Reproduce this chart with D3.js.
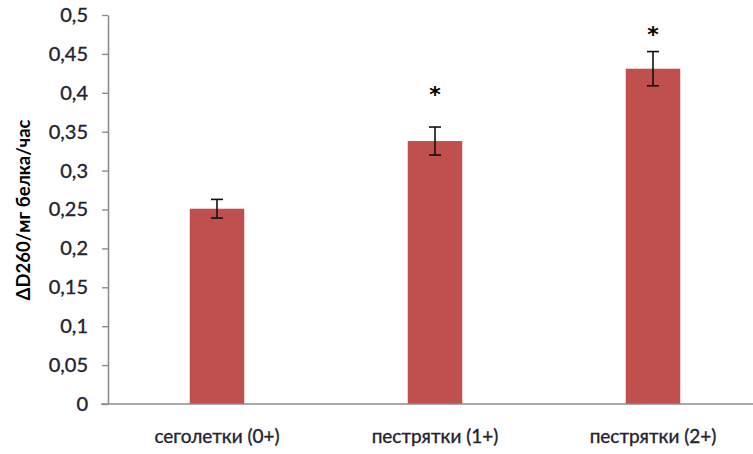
<!DOCTYPE html>
<html>
<head>
<meta charset="utf-8">
<script src="https://cdn.jsdelivr.net/npm/d3@7"></script>
<style>
  html, body { margin: 0; padding: 0; background: #fff; }
  svg { display: block; }
</style>
</head>
<body>
<svg id="chart" width="753" height="454"></svg>
<script>
// Activity per mg protein for three age groups
const categories = ["сеголетки (0+)", "пестрятки (1+)", "пестрятки (2+)"];
const values = [0.251, 0.338, 0.431];
const errors = [0.012, 0.018, 0.022];
// significance marks: level (in axis units) where the asterisk sits, null = none
const starLevels = [null, 0.401, 0.478];
const yTicks = [0, 0.05, 0.1, 0.15, 0.2, 0.25, 0.3, 0.35, 0.4, 0.45, 0.5];
const yTickLabels = ["0", "0,05", "0,1", "0,15", "0,2", "0,25", "0,3", "0,35", "0,4", "0,45", "0,5"];
const yTitle = "ΔD260/мг белка/час";

const svg = d3.select("#chart");
const fontFamily = "Lato, 'Open Sans', sans-serif";
const textColor = "#23232f";
const axisColor = "#8c8c8c";

const x0 = 108, x1 = 762, yBottom = 404, yTop = 15;

const x = d3.scaleBand()
  .domain(categories)
  .range([x0, x1])
  .paddingInner(0.75)
  .paddingOuter(0.375);

const y = d3.scaleLinear()
  .domain([0, 0.5])
  .range([yBottom, yTop]);

// Bars
svg.append("g")
  .selectAll("rect")
  .data(categories)
  .join("rect")
  .attr("x", d => x(d))
  .attr("width", x.bandwidth())
  .attr("y", (d, i) => y(values[i]))
  .attr("height", (d, i) => y(0) - y(values[i]))
  .attr("fill", "#C0504D");

// Error bars
const capHalf = 6;
const eb = svg.append("g").attr("stroke", "#111").attr("stroke-width", 1.6);
categories.forEach((c, i) => {
  const cx = x(c) + x.bandwidth() / 2;
  const yHi = y(values[i] + errors[i]);
  const yLo = y(values[i] - errors[i]);
  eb.append("line").attr("x1", cx).attr("x2", cx).attr("y1", yHi).attr("y2", yLo);
  eb.append("line").attr("x1", cx - capHalf).attr("x2", cx + capHalf).attr("y1", yHi).attr("y2", yHi);
  eb.append("line").attr("x1", cx - capHalf).attr("x2", cx + capHalf).attr("y1", yLo).attr("y2", yLo);
});

// Significance marks
svg.append("g")
  .selectAll("text")
  .data(categories.map((c, i) => ({ c, level: starLevels[i] })).filter(d => d.level !== null))
  .join("text")
  .attr("x", d => x(d.c) + x.bandwidth() / 2)
  .attr("y", d => y(d.level) + 10)
  .attr("text-anchor", "middle")
  .attr("font-family", "'DejaVu Sans', sans-serif")
  .attr("font-weight", "bold")
  .attr("font-size", 22)
  .attr("fill", "#000")
  .text("*");

// Y axis
const yAxis = d3.axisLeft(y)
  .tickValues(yTicks)
  .tickFormat((d, i) => yTickLabels[i])
  .tickSize(6)
  .tickSizeOuter(0)
  .tickPadding(14);

const gy = svg.append("g")
  .attr("transform", `translate(${x0},0)`)
  .call(yAxis);
gy.select(".domain").attr("stroke", axisColor).attr("stroke-width", 1.6);
gy.selectAll(".tick line").attr("stroke", axisColor).attr("stroke-width", 1.4);
gy.selectAll(".tick text")
  .attr("font-family", fontFamily)
  .attr("font-size", 20)
  .attr("fill", textColor)
  .attr("stroke", textColor)
  .attr("stroke-width", 0.35);

// X axis baseline and category labels
const xAxis = d3.axisBottom(x).tickSize(0).tickSizeOuter(0).tickPadding(26);
const gx = svg.append("g")
  .attr("transform", `translate(0,${yBottom})`)
  .call(xAxis);
gx.select(".domain")
  .attr("d", `M${x0 - 7},0H${x1}`)
  .attr("stroke", axisColor)
  .attr("stroke-width", 1.6);
gx.selectAll(".tick text")
  .attr("font-family", fontFamily)
  .attr("font-size", 19)
  .attr("fill", textColor)
  .attr("stroke", textColor)
  .attr("stroke-width", 0.35);

// Y axis title
svg.append("text")
  .attr("transform", `translate(30,210) rotate(-90)`)
  .attr("text-anchor", "middle")
  .attr("font-family", fontFamily)
  .attr("font-weight", "bold")
  .attr("font-size", 18.5)
  .attr("fill", "#000")
  .text(yTitle);
</script>
</body>
</html>
